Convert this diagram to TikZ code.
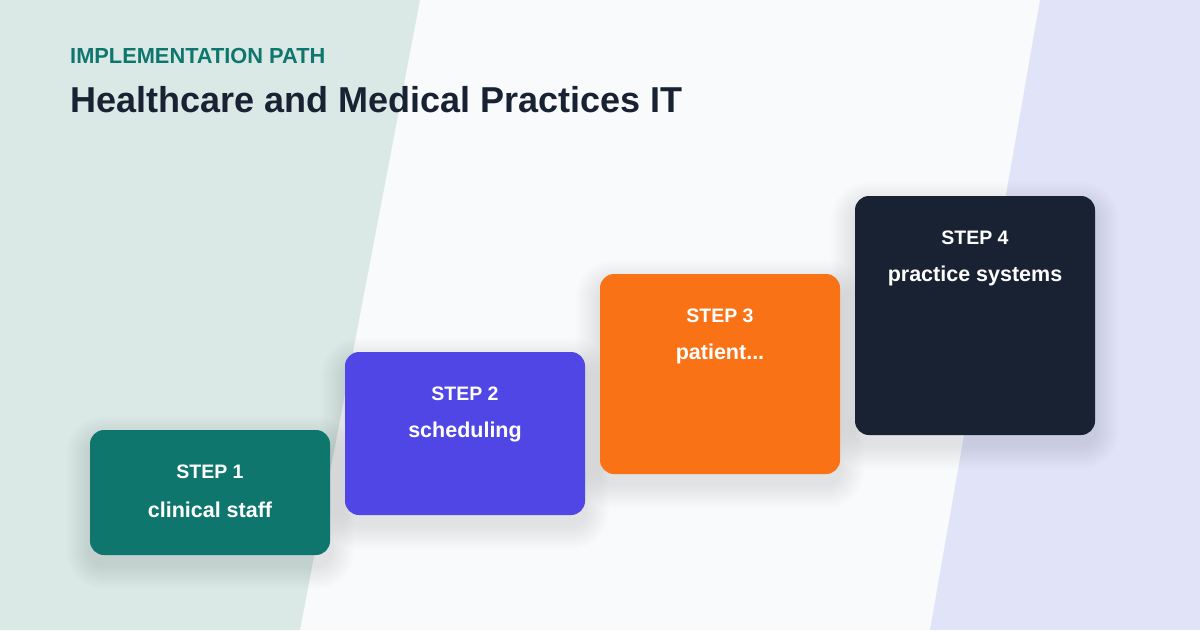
\documentclass[tikz,border=0pt]{standalone}
\usepackage{fontspec}
\setmainfont{Liberation Sans}
\definecolor{bgleft}{HTML}{DBE9E6}
\definecolor{bgmid}{HTML}{F8FAFC}
\definecolor{bgright}{HTML}{E1E4F8}
\definecolor{teal}{HTML}{0F766E}
\definecolor{indigo}{HTML}{4F46E5}
\definecolor{orange}{HTML}{F97316}
\definecolor{navy}{HTML}{182232}
\definecolor{shadowcol}{HTML}{1E293B}
\tikzset{
  x=1pt, y=-1pt,
  stepbox/.style={draw=none, rounded corners=14pt},
  steptitle/.style={text=white, font=\bfseries\fontsize{19.5}{22}\selectfont, anchor=center},
  steplabel/.style={text=white, font=\bfseries\fontsize{21.5}{24}\selectfont, anchor=center},
}
\newcommand{\softshadow}[4]{%
  \foreach \i in {2,4,...,24}{
    \fill[shadowcol, opacity=0.007, rounded corners=14pt+\i pt]
      (#1-\i,#2+10-\i) rectangle (#3+\i,#4+10+\i);
  }%
}
\begin{document}
\begin{tikzpicture}
\useasboundingbox (0,0) rectangle (1200,630);
\fill[bgmid] (0,0) rectangle (1200,630);
\fill[bgleft] (0,0) -- (420,0) -- (300,630) -- (0,630) -- cycle;
\fill[bgright] (1040,0) -- (1200,0) -- (1200,630) -- (930,630) -- cycle;

\node[anchor=base west, inner sep=0, text=teal, font=\bfseries\fontsize{21.8}{26}\selectfont] (kicker) at (70,63) {IMPLEMENTATION PATH};
\node[anchor=base west, inner sep=0, text=navy, font=\bfseries\fontsize{36}{40}\selectfont] (title) at (70,112) {Healthcare and Medical Practices IT};

\softshadow{90}{430}{330}{555}
\softshadow{345}{352}{585}{515}
\softshadow{600}{274}{840}{474}
\softshadow{855}{196}{1095}{435}

\path[stepbox, fill=teal] (90,430) rectangle (330,555);
\path[stepbox, fill=indigo] (345,352) rectangle (585,515);
\path[stepbox, fill=orange] (600,274) rectangle (840,474);
\path[stepbox, fill=navy] (855,196) rectangle (1095,435);

\node[steptitle] (s1t) at (210,471.5) {STEP 1};
\node[steplabel] (s1l) at (210,509.5) {clinical staff};
\node[steptitle] (s2t) at (465,393.5) {STEP 2};
\node[steplabel] (s2l) at (465,431.5) {scheduling};
\node[steptitle] (s3t) at (720,315.5) {STEP 3};
\node[steplabel] (s3l) at (720,353.5) {patient...};
\node[steptitle] (s4t) at (975,237.5) {STEP 4};
\node[steplabel] (s4l) at (975,275.5) {practice systems};
\end{tikzpicture}
\end{document}
